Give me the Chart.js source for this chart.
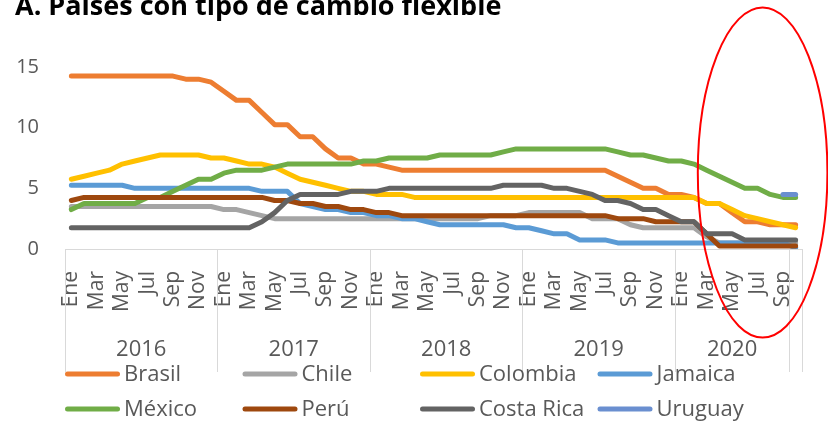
<!DOCTYPE html>
<html>
<head>
<meta charset="utf-8">
<script src="https://cdn.jsdelivr.net/npm/chart.js@4.4.0/dist/chart.umd.min.js"></script>
<style>
html,body{margin:0;padding:0;background:#fff;}
#wrap{width:828px;height:421px;position:relative;}
</style>
</head>
<body>
<div id="wrap"><canvas id="c" width="828" height="421"></canvas></div>
<script>
// ---------- DATA ----------
const chartTitle = 'A. Países con tipo de cambio flexible';

const monthLabels = [
  'Ene','Feb','Mar','Abr','May','Jun','Jul','Ago','Sep','Oct','Nov','Dic', // 2016
  'Ene','Feb','Mar','Abr','May','Jun','Jul','Ago','Sep','Oct','Nov','Dic', // 2017
  'Ene','Feb','Mar','Abr','May','Jun','Jul','Ago','Sep','Oct','Nov','Dic', // 2018
  'Ene','Feb','Mar','Abr','May','Jun','Jul','Ago','Sep','Oct','Nov','Dic', // 2019
  'Ene','Feb','Mar','Abr','May','Jun','Jul','Ago','Sep','Oct'              // 2020
];
const yearLabels = ['2016','2017','2018','2019','2020'];
const monthsPerYearLabel = [12, 12, 12, 12, 9]; // remaining month has an unlabeled group

const yTicks = [0, 5, 10, 15];

const brasil = [
  14.25,14.25,14.25,14.25,14.25,14.25,14.25,14.25,14.25,14.0,14.0,13.75,
  13.0,12.25,12.25,11.25,10.25,10.25,9.25,9.25,8.25,7.5,7.5,7.0,
  7.0,6.75,6.5,6.5,6.5,6.5,6.5,6.5,6.5,6.5,6.5,6.5,
  6.5,6.5,6.5,6.5,6.5,6.5,6.5,6.0,5.5,5.0,5.0,4.5,
  4.5,4.25,3.75,3.75,3.0,2.25,2.25,2.0,2.0,2.0
];
const chile = [
  3.5,3.5,3.5,3.5,3.5,3.5,3.5,3.5,3.5,3.5,3.5,3.5,
  3.25,3.25,3.0,2.75,2.5,2.5,2.5,2.5,2.5,2.5,2.5,2.5,
  2.5,2.5,2.5,2.5,2.5,2.5,2.5,2.5,2.5,2.75,2.75,2.75,
  3.0,3.0,3.0,3.0,3.0,2.5,2.5,2.5,2.0,1.75,1.75,1.75,
  1.75,1.75,1.0,0.5,0.5,0.5,0.5,0.5,0.5,0.5
];
const colombia = [
  5.75,6.0,6.25,6.5,7.0,7.25,7.5,7.75,7.75,7.75,7.75,7.5,
  7.5,7.25,7.0,7.0,6.75,6.25,5.75,5.5,5.25,5.0,4.75,4.75,
  4.5,4.5,4.5,4.25,4.25,4.25,4.25,4.25,4.25,4.25,4.25,4.25,
  4.25,4.25,4.25,4.25,4.25,4.25,4.25,4.25,4.25,4.25,4.25,4.25,
  4.25,4.25,3.75,3.75,3.25,2.75,2.5,2.25,2.0,1.75
];
const jamaica = [
  5.25,5.25,5.25,5.25,5.25,5.0,5.0,5.0,5.0,5.0,5.0,5.0,
  5.0,5.0,5.0,4.75,4.75,4.75,3.75,3.5,3.25,3.25,3.0,3.0,
  2.75,2.75,2.5,2.5,2.25,2.0,2.0,2.0,2.0,2.0,2.0,1.75,
  1.75,1.5,1.25,1.25,0.75,0.75,0.75,0.5,0.5,0.5,0.5,0.5,
  0.5,0.5,0.5,0.5,0.5,0.5,0.5,0.5,0.5,0.1
];
const mexico = [
  3.25,3.75,3.75,3.75,3.75,3.75,4.25,4.25,4.75,5.25,5.75,5.75,
  6.25,6.5,6.5,6.5,6.75,7.0,7.0,7.0,7.0,7.0,7.0,7.25,
  7.25,7.5,7.5,7.5,7.5,7.75,7.75,7.75,7.75,7.75,8.0,8.25,
  8.25,8.25,8.25,8.25,8.25,8.25,8.25,8.0,7.75,7.75,7.5,7.25,
  7.25,7.0,6.5,6.0,5.5,5.0,5.0,4.5,4.25,4.25
];
const peru = [
  4.0,4.25,4.25,4.25,4.25,4.25,4.25,4.25,4.25,4.25,4.25,4.25,
  4.25,4.25,4.25,4.25,4.0,4.0,3.75,3.75,3.5,3.5,3.25,3.25,
  3.0,3.0,2.75,2.75,2.75,2.75,2.75,2.75,2.75,2.75,2.75,2.75,
  2.75,2.75,2.75,2.75,2.75,2.75,2.75,2.5,2.5,2.5,2.25,2.25,
  2.25,2.25,1.25,0.25,0.25,0.25,0.25,0.25,0.25,0.25
];
const costaRica = [
  1.75,1.75,1.75,1.75,1.75,1.75,1.75,1.75,1.75,1.75,1.75,1.75,
  1.75,1.75,1.75,2.25,3.0,4.0,4.5,4.5,4.5,4.5,4.75,4.75,
  4.75,5.0,5.0,5.0,5.0,5.0,5.0,5.0,5.0,5.0,5.25,5.25,
  5.25,5.25,5.0,5.0,4.75,4.5,4.0,4.0,3.75,3.25,3.25,2.75,
  2.25,2.25,1.25,1.25,1.25,0.75,0.75,0.75,0.75,0.75
];
const uruguay = [
  null,null,null,null,null,null,null,null,null,null,null,null,
  null,null,null,null,null,null,null,null,null,null,null,null,
  null,null,null,null,null,null,null,null,null,null,null,null,
  null,null,null,null,null,null,null,null,null,null,null,null,
  null,null,null,null,null,null,null,null,4.5,4.5
];

const seriesNames = ['Brasil','Chile','Colombia','Jamaica','México','Perú','Costa Rica','Uruguay'];
const seriesValues = [brasil, chile, colombia, jamaica, mexico, peru, costaRica, uruguay];
const seriesColors = ['#ed7d31','#a5a5a5','#ffc000','#5b9bd5','#70ad47','#9e480e','#636363','#6a8fd0'];

// ---------- CHART ----------
const FONT = '"Open Sans", "DejaVu Sans", sans-serif';
const TXT = '#595959';
const AXIS = '#d9d9d9';

const overlay = {
  id: 'overlay',
  afterDraw(chart) {
    const ctx = chart.ctx, a = chart.chartArea, x = chart.scales.x, y = chart.scales.y;
    ctx.save();

    // group boundaries
    const bounds = [0];
    let acc = 0;
    monthsPerYearLabel.forEach(n => { acc += n; bounds.push(acc); });
    if (acc < monthLabels.length) bounds.push(monthLabels.length);
    ctx.strokeStyle = AXIS; ctx.lineWidth = 1;
    bounds.forEach(b => {
      const px = Math.round(x.getPixelForValue(b - 0.5)) + 0.5;
      ctx.beginPath(); ctx.moveTo(px, a.bottom); ctx.lineTo(px, 372); ctx.stroke();
    });
    ctx.fillStyle = TXT; ctx.font = '22px ' + FONT;
    ctx.textAlign = 'center'; ctx.textBaseline = 'middle';
    yearLabels.forEach((yl, i) => {
      const cx = (x.getPixelForValue(bounds[i] - 0.5) + x.getPixelForValue(bounds[i + 1] - 0.5)) / 2;
      ctx.fillText(yl, cx, 350);
    });

    // legend (4 columns x 2 rows)
    ctx.font = '22px ' + FONT; ctx.textAlign = 'left'; ctx.textBaseline = 'middle';
    chart.data.datasets.forEach((ds, i) => {
      const col = i % 4, row = Math.floor(i / 4);
      const lx = 65 + col * 177.5, ly = 374 + row * 35;
      ctx.strokeStyle = ds.borderColor; ctx.lineWidth = 5; ctx.lineCap = 'round';
      ctx.beginPath(); ctx.moveTo(lx + 2.5, ly); ctx.lineTo(lx + 52.5, ly); ctx.stroke();
      ctx.fillStyle = TXT;
      ctx.fillText(ds.label, lx + 59, ly + 1);
    });

    // title (partly cut by the top edge)
    ctx.fillStyle = '#000'; ctx.font = 'bold 27px ' + FONT;
    ctx.textAlign = 'left'; ctx.textBaseline = 'alphabetic';
    ctx.fillText(chartTitle, 15, 15);

    // red ellipse annotation
    const l = x.getPixelForValue(49.3), r = x.getPixelForValue(59.5);
    const t = y.getPixelForValue(19.9), btm = y.getPixelForValue(-7.3);
    ctx.strokeStyle = '#ff0000'; ctx.lineWidth = 2;
    ctx.beginPath();
    ctx.ellipse((l + r) / 2, (t + btm) / 2, (r - l) / 2, (btm - t) / 2, 0, 0, Math.PI * 2);
    ctx.stroke();
    ctx.restore();
  }
};

new Chart(document.getElementById('c'), {
  type: 'line',
  data: {
    labels: monthLabels,
    datasets: seriesNames.map((n, i) => ({
      label: n,
      data: seriesValues[i],
      borderColor: seriesColors[i],
      backgroundColor: seriesColors[i],
      borderWidth: 5,
      pointRadius: 0,
      tension: 0,
      borderJoinStyle: 'round',
      borderCapStyle: 'round',
      spanGaps: false,
      order: -i
    }))
  },
  options: {
    responsive: false,
    animation: false,
    devicePixelRatio: 1,
    layout: { padding: { top: 67, right: 26, left: 0, bottom: 0 } },
    plugins: { legend: { display: false }, title: { display: false }, tooltip: { enabled: false } },
    scales: {
      x: {
        type: 'category',
        offset: true,
        grid: { display: false, drawTicks: false },
        border: { display: true, color: AXIS, width: 1 },
        ticks: {
          autoSkip: false, minRotation: 90, maxRotation: 90, padding: 22,
          color: TXT, font: { family: FONT, size: 21 },
          callback: (v, i) => (i % 2 === 0 ? monthLabels[i] : '')
        },
        afterFit: s => { s.height = 172; s.paddingLeft = 0; s.paddingRight = 0; }
      },
      y: {
        min: 0, max: 15,
        afterBuildTicks: s => { s.ticks = yTicks.map(v => ({ value: v })); },
        grid: { display: false, drawTicks: false },
        border: { display: false },
        ticks: { color: TXT, font: { family: FONT, size: 20 }, padding: 26 },
        afterFit: s => { s.width = 65; s.paddingTop = 0; s.paddingBottom = 0; }
      }
    }
  },
  plugins: [overlay]
});
</script>
</body>
</html>
